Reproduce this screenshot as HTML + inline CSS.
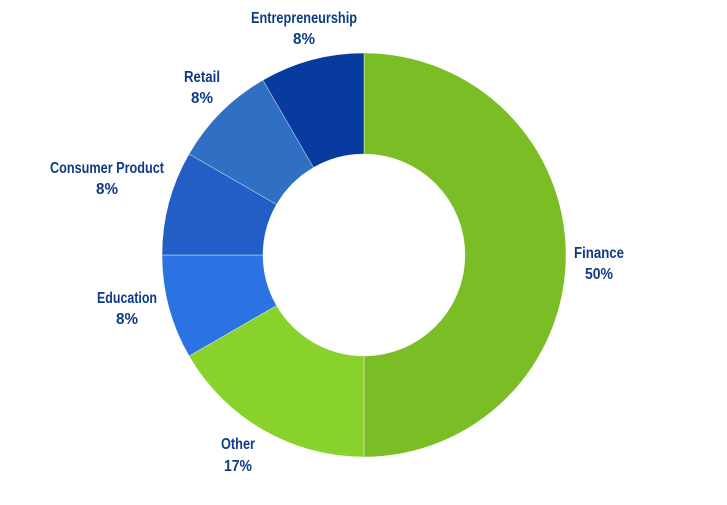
<!DOCTYPE html>
<html><head><meta charset="utf-8"><style>
html,body{margin:0;padding:0;background:#fff;}
svg text{font-family:"Liberation Sans",sans-serif;font-weight:bold;font-size:16px;fill:#0f3b86;text-anchor:middle;}
</style></head><body>
<svg width="727" height="500" viewBox="0 0 727 500" xmlns="http://www.w3.org/2000/svg">
<g stroke="#fff" stroke-width="0.4">
<path d="M364,53 A202,202 0 0 1 364,457 L364,356 A101,101 0 0 0 364,154 Z" fill="#7abd25"/>
<path d="M364,457 A202,202 0 0 1 189.07,356 L276.53,305.5 A101,101 0 0 0 364,356 Z" fill="#88d22b"/>
<path d="M189.07,356 A202,202 0 0 1 162,255 L263,255 A101,101 0 0 0 276.53,305.5 Z" fill="#2b73e3"/>
<path d="M162,255 A202,202 0 0 1 189.07,154 L276.53,204.5 A101,101 0 0 0 263,255 Z" fill="#235ec6"/>
<path d="M189.07,154 A202,202 0 0 1 263,80.07 L313.5,167.53 A101,101 0 0 0 276.53,204.5 Z" fill="#3070c4"/>
<path d="M263,80.07 A202,202 0 0 1 364,53 L364,154 A101,101 0 0 0 313.5,167.53 Z" fill="#073ba0"/>
</g>
<text x="304" y="23" textLength="106" lengthAdjust="spacingAndGlyphs">Entrepreneurship</text><text x="304" y="44" textLength="22" lengthAdjust="spacingAndGlyphs">8%</text>
<text x="202" y="82" textLength="36" lengthAdjust="spacingAndGlyphs">Retail</text><text x="202" y="103" textLength="22" lengthAdjust="spacingAndGlyphs">8%</text>
<text x="107" y="173" textLength="114" lengthAdjust="spacingAndGlyphs">Consumer Product</text><text x="107" y="194" textLength="22" lengthAdjust="spacingAndGlyphs">8%</text>
<text x="127" y="303" textLength="60" lengthAdjust="spacingAndGlyphs">Education</text><text x="127" y="324" textLength="22" lengthAdjust="spacingAndGlyphs">8%</text>
<text x="238" y="449" textLength="34" lengthAdjust="spacingAndGlyphs">Other</text><text x="238" y="471" textLength="28" lengthAdjust="spacingAndGlyphs">17%</text>
<text x="599" y="258" textLength="50" lengthAdjust="spacingAndGlyphs">Finance</text><text x="599" y="279" textLength="28" lengthAdjust="spacingAndGlyphs">50%</text>
</svg>
</body></html>
